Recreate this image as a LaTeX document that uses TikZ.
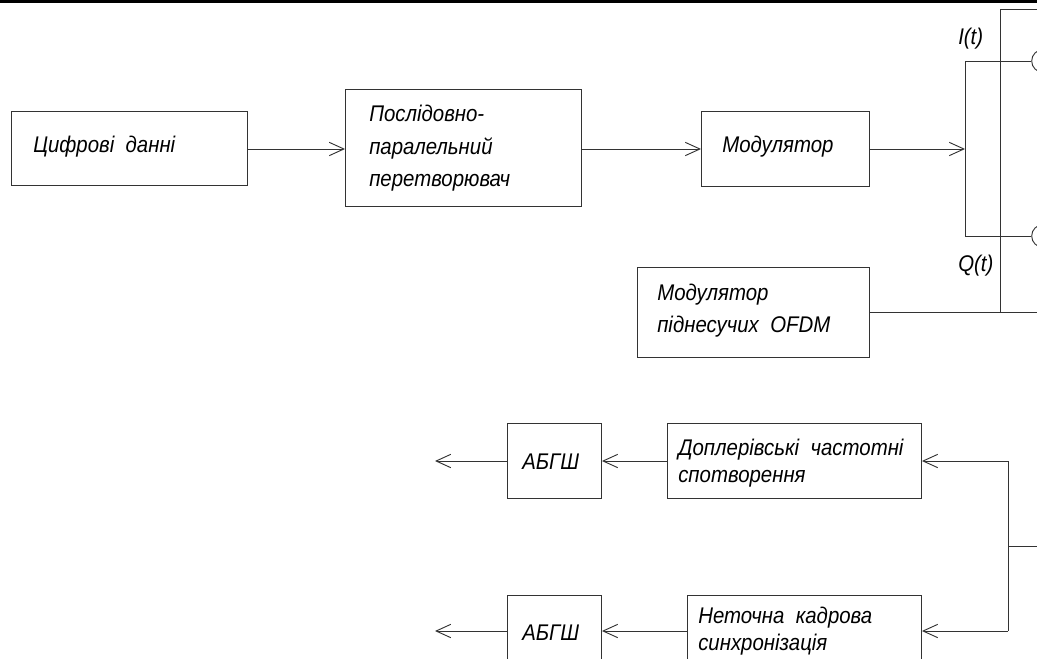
\documentclass[tikz,border=0pt]{standalone}
\usepackage{fontspec}
\setmainfont{Liberation Sans}[FakeStretch=0.9]
\usetikzlibrary{arrows.meta}
\tikzset{
  box/.style={draw=black!80, line width=0.7pt, rectangle, inner sep=0pt, anchor=north west},
  lbl/.style={anchor=base west, inner sep=0pt, font=\fontsize{17}{24}\selectfont\itshape, align=left},
  wire/.style={draw=black!80, line width=0.7pt},
  arr/.style={wire, -{Straight Barb[length=11pt,width=10pt,line width=0.7pt]}},
  circ/.style={draw=black!80, line width=0.7pt, circle, minimum size=17pt, inner sep=0pt}
}
\begin{document}
\begin{tikzpicture}[x=0.75pt,y=-0.75pt]
\useasboundingbox (0,0) rectangle (1037,659);
\clip (0,0) rectangle (1037,659);
% top rule
\draw[line width=2.2pt] (0,1.5) -- (1037,1.5);
% boxes
\node[box, minimum width=177pt, minimum height=55.5pt] (dig) at (11,111) {};
\node[box, minimum width=177pt, minimum height=87.75pt] (sp) at (345,89) {};
\node[box, minimum width=126pt, minimum height=56.25pt] (mod) at (701,111) {};
\node[box, minimum width=174pt, minimum height=67.5pt] (ofdm) at (637,267) {};
\node[box, minimum width=70.5pt, minimum height=56.25pt] (awgn1) at (507,423) {};
\node[box, minimum width=190.5pt, minimum height=56.25pt] (dop) at (667,423) {};
\node[box, minimum width=70.5pt, minimum height=56.25pt] (awgn2) at (507,595) {};
\node[box, minimum width=175.5pt, minimum height=54pt] (sync) at (687,595) {};
% labels
\node[lbl] (tdig) at (33,153) {Цифрові\ \ данні};
\node[lbl] (tsp1) at (369,122) {Послідовно-};
\node[lbl] (tsp2) at (369,155) {паралельний};
\node[lbl] (tsp3) at (369,187) {перетворювач};
\node[lbl] (tmod) at (722,153) {Модулятор};
\node[lbl] (tof1) at (657,300) {Модулятор};
\node[lbl] (tof2) at (657,332) {піднесучих\ \ OFDM};
\node[lbl] (tdop1) at (678,455) {Доплерівські\ \ частотні};
\node[lbl] (tdop2) at (678,482) {спотворення};
\node[lbl] (ta1) at (522,469) {АБГШ};
\node[lbl] (tsy1) at (698,623) {Неточна\ \ кадрова};
\node[lbl] (tsy2) at (698,650) {синхронізація};
\node[lbl] (ta2) at (522,640) {АБГШ};
\node[lbl] (tI) at (958,45) {I(t)};
\node[lbl] (tQ) at (958,271) {Q(t)};
% coordinates
\coordinate (busm) at (965,149);
\coordinate (bust) at (965,61);
\coordinate (busb) at (965,236);
\node[circ] (c1) at (1043,61) {};
\node[circ] (c2) at (1043,236) {};
\coordinate (vt) at (1000,9);
\coordinate (vb) at (1000,312);
\coordinate (rt) at (1037,9);
\coordinate (rb) at (1037,312);
\coordinate (cin) at (1037,546);
\coordinate (cj) at (1008,546);
\coordinate (ct) at (1008,461);
\coordinate (cb) at (1008,631);
\coordinate (o1) at (435,461);
\coordinate (o2) at (435,631);
% connectors
\draw[arr] (dig.east |- 0,149) -- (sp.west |- 0,149);
\draw[arr] (sp.east |- 0,149) -- (mod.west |- 0,149);
\draw[arr] (mod.east |- 0,149) -- (busm);
\draw[wire] (c1.west) -- (bust) -- (busb) -- (c2.west);
\draw[wire] (rt) -- (vt) -- (vb);
\draw[wire] (ofdm.east |- vb) -- (rb);
\draw[wire] (cin) -- (cj);
\draw[wire] (ct) -- (cb);
\draw[arr] (ct) -- (dop.east |- ct);
\draw[arr] (cb) -- (sync.east |- cb);
\draw[arr] (dop.west |- ct) -- (awgn1.east |- ct);
\draw[arr] (awgn1.west |- ct) -- (o1);
\draw[arr] (sync.west |- cb) -- (awgn2.east |- cb);
\draw[arr] (awgn2.west |- cb) -- (o2);
\end{tikzpicture}
\end{document}
